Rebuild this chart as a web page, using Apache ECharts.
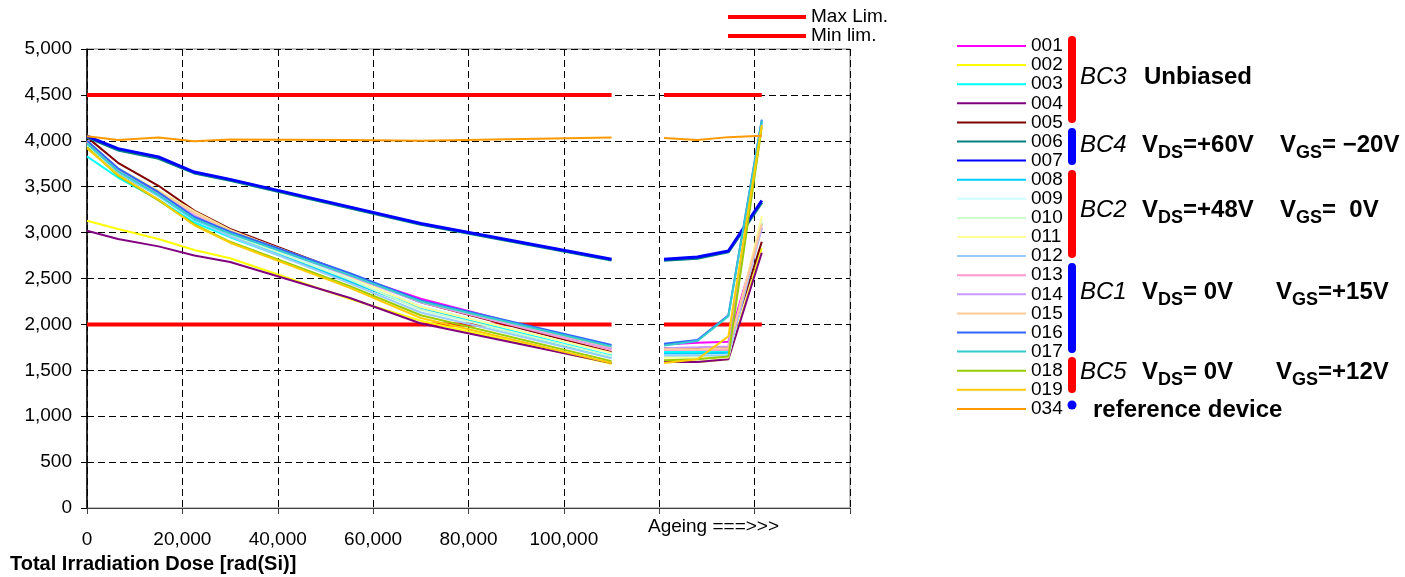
<!DOCTYPE html>
<html><head><meta charset="utf-8">
<script src="https://cdn.jsdelivr.net/npm/echarts@6/dist/echarts.min.js"></script>
<style>html,body{margin:0;padding:0;background:#fff}#c{width:1405px;height:577px}</style>
</head><body><div id="c"></div>
<script>
const FONT = '"Liberation Sans", Arial, sans-serif';

// x positions (rad(Si)) of the irradiation steps and of the ageing steps
const doses = [0, 6500, 15000, 22500, 30000, 55000, 70000, 110000];
const ageingDoses = [121000, 128000, 134500, 141500];
const xLabelMax = 100000;
const xTitle = 'Total Irradiation Dose [rad(Si)]';
const ageingLabel = 'Ageing ===>>>';

// limits
const limitNames = ['Max Lim.', 'Min lim.'];
const maxLimValues = [4500, 4500, 4500, 4500, 4500, 4500, 4500, 4500, 4500, 4500, 4500, 4500];
const minLimValues = [2000, 2000, 2000, 2000, 2000, 2000, 2000, 2000, 2000, 2000, 2000, 2000];

// devices
const deviceNames = ['001','002','003','004','005','006','007','008','009','010','011','012','013','014','015','016','017','018','019','034'];
const deviceColors = ['#FF00FF','#FFFF00','#00FFFF','#800080','#800000','#008080','#0000FF','#00CCFF','#CCFFFF','#CCFFCC','#FFFF99','#99CCFF','#FF99CC','#CC99FF','#FFCC99','#3366FF','#33CCCC','#99CC00','#FFCC00','#FF9900'];

// values: 8 irradiation steps, then 4 ageing steps
const v001 = [4000, 3680, 3420, 3170, 3000, 2540, 2280, 1740, 1780, 1800, 1810, 3050];
const v002 = [3130, 3040, 2930, 2810, 2720, 2280, 2040, 1570, 1590, 1590, 1620, 2830];
const v003 = [3830, 3600, 3360, 3110, 2950, 2470, 2180, 1670, 1700, 1700, 1700, 3100];
const v004 = [3020, 2930, 2850, 2750, 2680, 2290, 2010, 1580, 1590, 1590, 1620, 2780];
const v005 = [4040, 3760, 3510, 3240, 3040, 2550, 2240, 1700, 1740, 1740, 1740, 2900];
const v006 = [4040, 3900, 3810, 3650, 3570, 3270, 3090, 2700, 2700, 2720, 2790, 3330];
const v007 = [4050, 3915, 3825, 3660, 3580, 3280, 3100, 2710, 2710, 2735, 2800, 3350];
const v008 = [3950, 3650, 3400, 3140, 2980, 2470, 2170, 1640, 1680, 1680, 1690, 4200];
const v009 = [3960, 3680, 3440, 3200, 3000, 2510, 2200, 1680, 1660, 1660, 1660, 3150];
const v010 = [3940, 3660, 3410, 3170, 2980, 2490, 2160, 1650, 1650, 1650, 1660, 3120];
const v011 = [4000, 3700, 3460, 3230, 3030, 2520, 2190, 1690, 1640, 1640, 1640, 3180];
const v012 = [3970, 3660, 3400, 3150, 2960, 2450, 2130, 1630, 1660, 1660, 1660, 3050];
const v013 = [3990, 3690, 3440, 3190, 3010, 2540, 2240, 1720, 1720, 1720, 1720, 3080];
const v014 = [3980, 3690, 3430, 3180, 3000, 2530, 2240, 1740, 1740, 1750, 1760, 4180];
const v015 = [3990, 3700, 3450, 3220, 3020, 2550, 2250, 1750, 1730, 1730, 1740, 3100];
const v016 = [4000, 3700, 3440, 3170, 3010, 2560, 2260, 1775, 1790, 1830, 2100, 4230];
const v017 = [3970, 3670, 3410, 3150, 2990, 2540, 2250, 1760, 1770, 1820, 2090, 4220];
const v018 = [3930, 3620, 3350, 3090, 2900, 2420, 2100, 1600, 1610, 1620, 1650, 4150];
const v019 = [3920, 3630, 3360, 3080, 2890, 2400, 2070, 1580, 1580, 1620, 1870, 4170];
const v034 = [4050, 4010, 4035, 3995, 4015, 4010, 4000, 4035, 4030, 4010, 4040, 4055];
const deviceValues = [v001,v002,v003,v004,v005,v006,v007,v008,v009,v010,v011,v012,v013,v014,v015,v016,v017,v018,v019,v034];

function toPoints(vals) {
  const out = doses.map((d, i) => [d, vals[i]]);
  out.push([(doses[doses.length - 1] + ageingDoses[0]) / 2, '-']);
  ageingDoses.forEach((d, i) => out.push([d, vals[doses.length + i]]));
  return out;
}

const series = [];
[[limitNames[0], maxLimValues], [limitNames[1], minLimValues]].forEach(([n, vals]) => {
  series.push({
    name: n, type: 'line', data: toPoints(vals), showSymbol: false, connectNulls: false,
    color: '#FF0000', lineStyle: { width: 4, color: '#FF0000' }, itemStyle: { color: '#FF0000' }, z: 2
  });
});
deviceNames.forEach((n, i) => {
  const w = (n === '006' || n === '007') ? 3 : 2;
  series.push({
    name: n, type: 'line', data: toPoints(deviceValues[i]), showSymbol: false, connectNulls: false,
    color: deviceColors[i], lineStyle: { width: w, color: deviceColors[i] }, itemStyle: { color: deviceColors[i] }, z: 3
  });
});

// text runs with subscripts
const ctx = document.createElement('canvas').getContext('2d');
const BIG = 'bold 24px ' + FONT, SUB = 'bold 18px ' + FONT, IT = 'italic 24px ' + FONT;
function run(x, y, parts) {
  const els = [];
  let cx = x;
  parts.forEach(p => {
    const [t, f, dy] = p;
    els.push({ type: 'text', x: cx, y: y + (dy || 0), z: 10,
      style: { text: t, font: f, fill: '#000', align: 'left', verticalAlign: 'middle' } });
    ctx.font = f;
    cx += ctx.measureText(t).width;
  });
  return els;
}
const graphics = [];
const bars = [[36, 123, '#FF0000'], [128, 165, '#0000FF'], [170, 258, '#FF0000'], [263, 353, '#0000FF'], [357, 393, '#FF0000']];
bars.forEach(([a, b, c]) => graphics.push({ type: 'rect', z: 10, shape: { x: 1068, y: a, width: 8, height: b - a, r: 4 }, style: { fill: c } }));
graphics.push({ type: 'circle', z: 10, shape: { cx: 1072, cy: 405, r: 4.5 }, style: { fill: '#0000FF' } });
const rows = [
  [77, 'BC3', null, null],
  [145, 'BC4', '=+60V', '= \u221220V'],
  [210, 'BC2', '=+48V', '=  0V'],
  [292, 'BC1', '= 0V', '=+15V'],
  [372, 'BC5', '= 0V', '=+12V']
];
rows.forEach(([y, bc, ds, gs], k) => {
  graphics.push(...run(1080, y, [[bc, IT]]));
  if (ds === null) {
    graphics.push(...run(1144, y, [['Unbiased', BIG]]));
  } else {
    graphics.push(...run(1142, y, [['V', BIG], ['DS', SUB, 8], [ds, BIG]]));
    graphics.push(...run(k >= 3 ? 1276 : 1280, y, [['V', BIG], ['GS', SUB, 8], [gs, BIG]]));
  }
});
graphics.push(...run(1093, 410, [['reference device', BIG]]));
graphics.push({ type: 'text', x: 648, y: 527, z: 10, style: { text: ageingLabel, font: '19px ' + FONT, fill: '#000', verticalAlign: 'middle' } });
graphics.push({ type: 'text', x: 10, y: 564, z: 10, style: { text: xTitle, font: 'bold 20px ' + FONT, fill: '#000', verticalAlign: 'middle' } });

const fmt = v => v.toLocaleString('en-US');
const chart = echarts.init(document.getElementById('c'), null, { renderer: 'canvas' });
chart.setOption({
  animation: false,
  backgroundColor: '#fff',
  textStyle: { fontFamily: FONT },
  grid: { left: 87, top: 49, right: 555, bottom: 69, show: true, borderColor: '#808080', borderWidth: 1, backgroundColor: 'transparent' },
  xAxis: {
    type: 'value', min: 0, max: 160000, interval: 20000,
    axisLine: { show: true, lineStyle: { color: '#404040', width: 1 } },
    axisTick: { show: true, length: 6, lineStyle: { color: '#404040' } },
    axisLabel: { fontSize: 19, color: '#000', margin: 22, formatter: v => v <= xLabelMax ? fmt(v) : '' },
    splitLine: { show: true, lineStyle: { color: '#000', type: [7, 4], width: 1 } }
  },
  yAxis: {
    type: 'value', min: 0, max: 5000, interval: 500,
    axisLine: { show: true, lineStyle: { color: '#000', width: 1.5 } },
    axisTick: { show: true, length: 6, lineStyle: { color: '#000' } },
    axisLabel: { fontSize: 19, color: '#000', margin: 15, formatter: v => fmt(v) },
    splitLine: { show: true, lineStyle: { color: '#000', type: [7, 4], width: 1 } }
  },
  legend: [
    { data: limitNames, orient: 'vertical', left: 728, top: 7.5, padding: 0, itemGap: 0, itemWidth: 78, itemHeight: 4, icon: 'rect',
      itemStyle: { borderWidth: 0 }, textStyle: { fontSize: 19, lineHeight: 19, color: '#000', fontFamily: FONT } },
    { data: deviceNames, orient: 'vertical', left: 957, top: 36.5, padding: 0, itemGap: 0.1, itemWidth: 69, itemHeight: 2, icon: 'rect',
      itemStyle: { borderWidth: 0 }, textStyle: { fontSize: 19, lineHeight: 19, color: '#000', fontFamily: FONT } }
  ],
  series: series,
  graphic: graphics
});
</script></body></html>
